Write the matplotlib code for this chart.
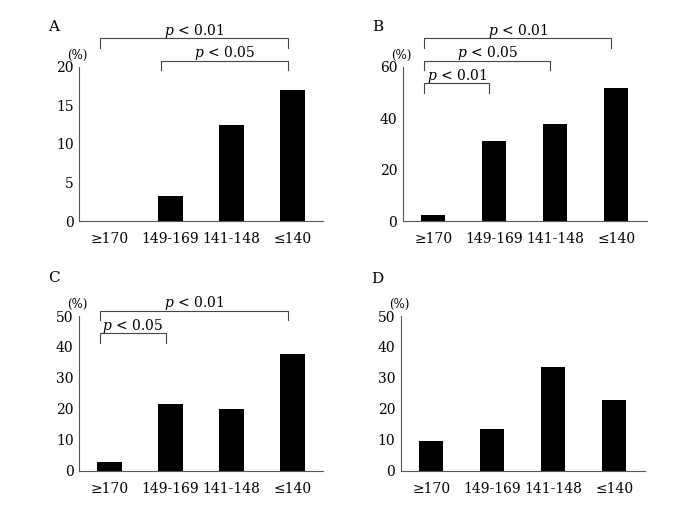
import matplotlib
matplotlib.use('agg')
import matplotlib.pyplot as plt

plt.rcParams['font.family'] = ['DejaVu Serif']
plt.rcParams['mathtext.fontset'] = 'dejavuserif'

# data
categories = ['≥170', '149-169', '141-148', '≤140']
values_a = [0, 3.2, 12.5, 17.0]
values_b = [2.3, 31.0, 37.6, 51.7]
values_c = [2.8, 21.5, 20.0, 37.6]
values_d = [9.6, 13.5, 33.4, 22.9]
ymax = {'A': 20, 'B': 60, 'C': 50, 'D': 50}
yticks = {'A': [0, 5, 10, 15, 20], 'B': [0, 20, 40, 60],
          'C': [0, 10, 20, 30, 40, 50], 'D': [0, 10, 20, 30, 40, 50]}
# significance brackets: (from, to, label)
sig_a = [(0, 3, 'p < 0.01'), (1, 3, 'p < 0.05')]
sig_b = [(0, 3, 'p < 0.01'), (0, 2, 'p < 0.05'), (0, 1, 'p < 0.01')]
sig_c = [(0, 3, 'p < 0.01'), (0, 1, 'p < 0.05')]
sig_d = []

panels = [('A', values_a, sig_a, [0.1169, 0.5641, 0.361, 0.3038], (1.186, 1.039)),
          ('B', values_b, sig_b, [0.5957, 0.5641, 0.361, 0.3038], (1.186, 1.039, 0.894)),
          ('C', values_c, sig_c, [0.1169, 0.0716, 0.361, 0.3051], (1.032, 0.888)),
          ('D', values_d, sig_d, [0.5928, 0.0716, 0.361, 0.3051], ())]

fig = plt.figure(figsize=(6.76, 5.07), dpi=100)

for name, vals, sigs, rect, levels in panels:
    ax = fig.add_axes(rect)
    x = range(len(categories))
    ax.bar(x, vals, width=0.4, color='black')
    ax.set_xlim(-0.5, 3.5)
    ax.set_ylim(0, ymax[name])
    ax.set_yticks(yticks[name])
    ax.set_xticks(list(x))
    ax.set_xticklabels(categories)
    ax.tick_params(axis='both', length=0, labelsize=10)
    ax.tick_params(axis='y', pad=4)
    ax.tick_params(axis='x', pad=8)
    for s in ['top', 'right']:
        ax.spines[s].set_visible(False)
    for s in ['left', 'bottom']:
        ax.spines[s].set_color('#555555')
        ax.spines[s].set_linewidth(0.8)

    ax.annotate('(%)', xy=(0, 1), xycoords='axes fraction', xytext=(-1, 8),
                textcoords='offset points', ha='center', va='center', fontsize=8.5)

    trans = ax.get_xaxis_transform()
    for (i, j, lab), lev in zip(sigs, levels):
        x0, x1 = i - 0.15, j - 0.08
        drop = 0.06
        ax.plot([x0, x0, x1, x1], [lev - drop, lev, lev, lev - drop], color='#444444',
                lw=0.8, transform=trans, clip_on=False)
        p, rest = lab.split(' ', 1)
        ax.annotate(r'$p$ ' + rest, xy=((x0 + x1) / 2, lev), xycoords=trans,
                    xytext=(0, -1), textcoords='offset points',
                    ha='center', va='bottom', fontsize=10)

fig.text(53.5 / 676, 1 - 27 / 507, 'A', ha='center', va='center', fontsize=11)
fig.text(377.5 / 676, 1 - 27 / 507, 'B', ha='center', va='center', fontsize=11)
fig.text(53.5 / 676, 1 - 278 / 507, 'C', ha='center', va='center', fontsize=11)
fig.text(377.5 / 676, 1 - 279 / 507, 'D', ha='center', va='center', fontsize=11)

plt.savefig('out.png', dpi=100)
